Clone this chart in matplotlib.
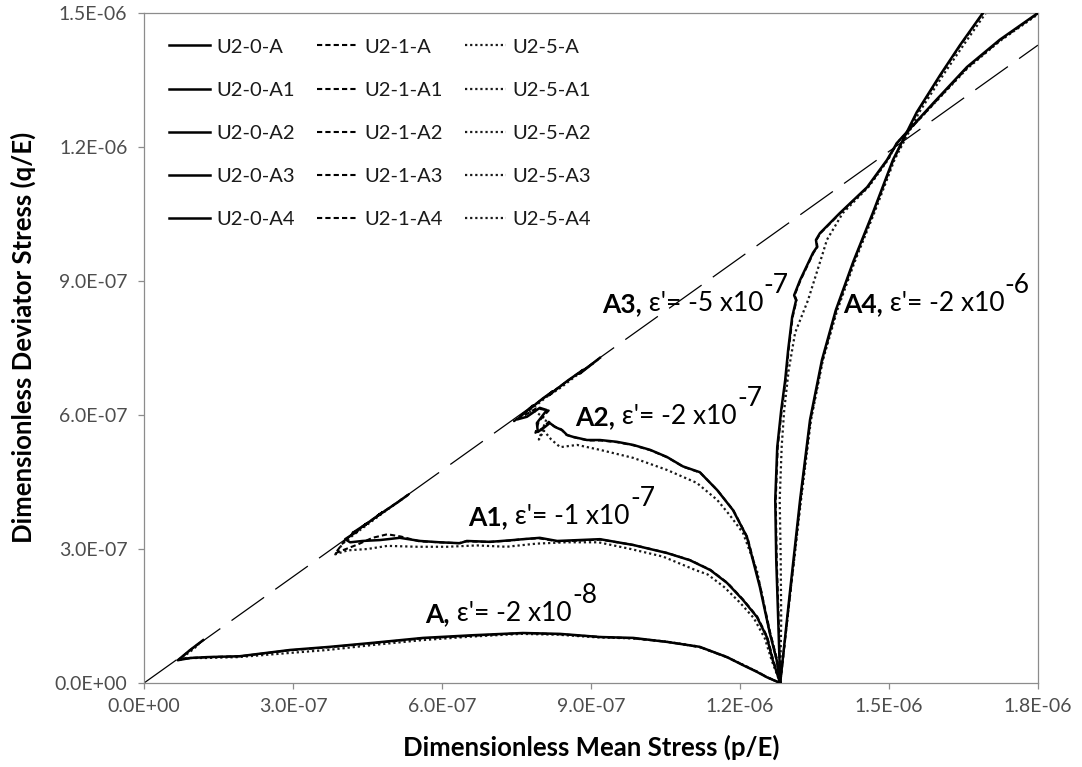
import numpy as np
import matplotlib
matplotlib.use("Agg")
import matplotlib.pyplot as plt
from matplotlib.ticker import FuncFormatter

plt.rcParams['font.family'] = ['Lato', 'DejaVu Sans']

UNIT = 1e-7  # all stresses below are given in units of 1e-7

# critical state line (dashed)
p_csl = [0.0, 18.0]
q_csl = [0.0, 14.28]

# ---- path A ----
p_A_0 = [12.81, 12.54, 12.34, 12.06, 11.74, 11.19, 10.53, 9.85, 9.18, 8.38, 7.63, 6.62, 5.62, 4.61, 3.74, 2.94, 1.93, 1.27, 0.93, 0.68, 0.93, 1.19]
q_A_0 = [0.00, 0.13, 0.25, 0.40, 0.58, 0.81, 0.92, 1.01, 1.03, 1.10, 1.12, 1.07, 1.01, 0.90, 0.81, 0.74, 0.60, 0.58, 0.56, 0.51, 0.74, 0.96]
p_A_1 = [12.81, 12.55, 12.35, 12.07, 11.75, 11.20, 10.55, 9.86, 9.20, 8.40, 7.65, 6.64, 5.60, 4.60, 3.72, 2.92, 1.95, 1.30, 0.95, 0.70, 0.92, 1.15]
q_A_1 = [0.00, 0.13, 0.25, 0.40, 0.57, 0.80, 0.92, 1.00, 1.03, 1.09, 1.12, 1.06, 1.00, 0.89, 0.80, 0.73, 0.60, 0.58, 0.56, 0.52, 0.73, 0.92]
p_A_5 = [12.81, 12.54, 12.32, 12.04, 11.70, 11.15, 10.50, 9.83, 9.15, 8.35, 7.60, 6.60, 5.60, 4.60, 3.70, 2.90, 1.90, 1.25, 0.85, 0.72, 0.95, 1.10]
q_A_5 = [0.00, 0.13, 0.27, 0.42, 0.60, 0.82, 0.93, 1.00, 1.02, 1.08, 1.10, 1.04, 0.96, 0.85, 0.74, 0.67, 0.58, 0.56, 0.56, 0.53, 0.72, 0.86]

# ---- path A1 ----
p_A1_0 = [12.81, 12.66, 12.54, 12.34, 12.06, 11.74, 11.40, 10.99, 10.53, 9.85, 9.18, 8.32, 7.97, 7.63, 7.43, 6.97, 6.50, 6.36, 5.96, 5.56, 5.15, 4.75, 4.40, 4.15, 4.05, 4.30, 4.20, 4.50, 4.40, 4.80, 4.70, 5.10, 5.30]
q_A1_0 = [0.00, 0.51, 1.03, 1.48, 1.86, 2.24, 2.53, 2.75, 2.91, 3.09, 3.22, 3.18, 3.25, 3.22, 3.20, 3.16, 3.18, 3.13, 3.15, 3.18, 3.25, 3.20, 3.18, 3.15, 3.22, 3.40, 3.36, 3.58, 3.50, 3.82, 3.74, 4.04, 4.20]
p_A1_1 = [12.81, 12.67, 12.55, 12.35, 12.07, 11.75, 11.41, 11.00, 10.54, 9.86, 9.20, 8.34, 7.95, 7.60, 7.40, 6.95, 6.48, 6.33, 5.95, 5.55, 5.17, 4.90, 4.60, 4.30, 3.95, 3.85, 4.05, 4.25, 4.15, 4.45, 4.65, 4.95, 5.20, 5.35]
q_A1_1 = [0.00, 0.51, 1.03, 1.48, 1.86, 2.24, 2.53, 2.75, 2.91, 3.09, 3.21, 3.17, 3.24, 3.22, 3.19, 3.16, 3.17, 3.13, 3.15, 3.17, 3.28, 3.33, 3.25, 3.10, 2.95, 2.90, 3.20, 3.38, 3.30, 3.54, 3.70, 3.93, 4.12, 4.24]
p_A1_5 = [12.81, 12.64, 12.50, 12.28, 12.00, 11.68, 11.35, 11.10, 10.45, 9.80, 9.15, 8.50, 7.90, 7.30, 6.70, 6.10, 5.50, 4.90, 4.50, 4.10, 3.85, 4.00, 4.20, 4.50, 4.90, 5.20]
q_A1_5 = [0.00, 0.50, 1.00, 1.45, 1.80, 2.15, 2.43, 2.53, 2.83, 3.00, 3.15, 3.15, 3.12, 3.05, 3.08, 3.05, 3.05, 3.07, 3.00, 2.97, 2.88, 3.12, 3.30, 3.55, 3.88, 4.12]

# ---- path A2 ----
p_A2_0 = [12.81, 12.74, 12.60, 12.40, 12.14, 11.86, 11.54, 11.19, 10.85, 10.53, 10.19, 9.85, 9.52, 9.18, 8.92, 8.64, 8.52, 8.42, 8.28, 8.17, 8.07, 7.93, 7.91, 8.11, 7.97, 7.71, 7.51, 7.83, 7.75, 8.03, 8.23, 8.15, 8.52, 8.84, 8.78, 9.18]
q_A2_0 = [0.00, 0.51, 1.12, 2.15, 3.27, 3.87, 4.32, 4.72, 4.85, 5.06, 5.22, 5.33, 5.40, 5.44, 5.44, 5.51, 5.55, 5.66, 5.73, 5.82, 5.73, 5.62, 5.82, 6.11, 6.16, 5.96, 5.90, 6.21, 6.12, 6.37, 6.53, 6.44, 6.76, 7.01, 6.93, 7.28]
p_A2_1 = [12.81, 12.75, 12.61, 12.41, 12.15, 11.87, 11.55, 11.20, 10.86, 10.54, 10.20, 9.86, 9.53, 9.20, 8.94, 8.66, 8.50, 8.40, 8.25, 8.15, 8.02, 7.88, 7.95, 8.15, 7.90, 7.60, 7.45, 7.80, 7.70, 8.00, 8.25, 8.10, 8.50, 8.80, 8.75, 9.15]
q_A2_1 = [0.00, 0.51, 1.12, 2.15, 3.26, 3.86, 4.31, 4.71, 4.84, 5.05, 5.21, 5.32, 5.39, 5.43, 5.43, 5.50, 5.56, 5.68, 5.75, 5.85, 5.70, 5.60, 5.86, 6.10, 6.15, 5.95, 5.86, 6.18, 6.08, 6.34, 6.54, 6.42, 6.74, 6.98, 6.92, 7.25]
p_A2_5 = [12.81, 12.74, 12.54, 12.34, 12.06, 11.80, 11.54, 11.13, 10.53, 9.85, 9.18, 8.72, 8.38, 8.20, 8.05, 7.95, 8.10, 7.85, 7.60, 7.90, 8.10, 8.40, 8.75, 9.10]
q_A2_5 = [0.00, 0.51, 1.41, 2.53, 3.36, 3.75, 4.10, 4.48, 4.77, 5.04, 5.22, 5.33, 5.28, 5.45, 5.65, 5.45, 5.90, 6.10, 6.00, 6.22, 6.40, 6.62, 6.92, 7.20]

# ---- path A3 ----
p_A3_0 = [12.81, 12.77, 12.73, 12.71, 12.75, 12.83, 12.91, 12.97, 13.05, 13.13, 13.09, 13.21, 13.47, 13.55, 13.53, 13.61, 14.01, 14.56, 14.96, 15.16, 15.89, 16.57, 17.23, 18.00]
q_A3_0 = [0.00, 1.41, 2.75, 4.10, 5.28, 6.11, 6.78, 7.46, 8.19, 8.57, 8.68, 9.02, 9.63, 9.76, 9.92, 10.07, 10.52, 11.10, 11.71, 12.09, 12.98, 13.79, 14.40, 15.00]
p_A3_1 = [12.81, 12.78, 12.74, 12.72, 12.76, 12.84, 12.92, 12.98, 13.06, 13.14, 13.10, 13.22, 13.48, 13.56, 13.54, 13.62, 14.02, 14.57, 14.97, 15.17, 15.90, 16.58, 17.24, 18.00]
q_A3_1 = [0.00, 1.41, 2.75, 4.10, 5.28, 6.11, 6.78, 7.46, 8.19, 8.57, 8.68, 9.02, 9.63, 9.76, 9.92, 10.07, 10.52, 11.10, 11.71, 12.09, 12.97, 13.78, 14.39, 14.99]
p_A3_5 = [12.81, 12.83, 12.82, 12.80, 12.84, 12.89, 12.98, 13.11, 13.37, 13.67, 13.75, 14.07, 14.60, 14.98, 15.16, 15.89, 16.57, 17.23, 18.00]
q_A3_5 = [0.00, 1.40, 2.80, 4.10, 5.30, 6.10, 7.00, 7.84, 8.57, 9.63, 9.92, 10.52, 11.12, 11.71, 12.09, 12.95, 13.75, 14.37, 14.97]

# ---- path A4 ----
p_A4_0 = [12.81, 13.01, 13.21, 13.41, 13.65, 13.93, 14.28, 14.68, 15.08, 15.56, 16.03, 16.43, 16.89]
q_A4_0 = [0.00, 2.08, 4.10, 5.89, 7.23, 8.35, 9.43, 10.54, 11.71, 12.78, 13.61, 14.28, 15.00]
p_A4_1 = [12.81, 13.02, 13.22, 13.42, 13.66, 13.94, 14.29, 14.69, 15.09, 15.57, 16.04, 16.44, 16.90]
q_A4_1 = [0.00, 2.08, 4.10, 5.89, 7.23, 8.35, 9.43, 10.54, 11.71, 12.78, 13.61, 14.28, 15.00]
p_A4_5 = [12.81, 13.02, 13.23, 13.43, 13.67, 13.96, 14.31, 14.71, 15.11, 15.61, 16.09, 16.50, 16.95]
q_A4_5 = [0.00, 2.08, 4.10, 5.89, 7.23, 8.35, 9.43, 10.54, 11.71, 12.78, 13.61, 14.28, 15.00]

paths = ["A", "A1", "A2", "A3", "A4"]
series_0 = [(p_A_0, q_A_0), (p_A1_0, q_A1_0), (p_A2_0, q_A2_0), (p_A3_0, q_A3_0), (p_A4_0, q_A4_0)]
series_1 = [(p_A_1, q_A_1), (p_A1_1, q_A1_1), (p_A2_1, q_A2_1), (p_A3_1, q_A3_1), (p_A4_1, q_A4_1)]
series_5 = [(p_A_5, q_A_5), (p_A1_5, q_A1_5), (p_A2_5, q_A2_5), (p_A3_5, q_A3_5), (p_A4_5, q_A4_5)]

# path labels: name, strain-rate coefficient, exponent, label anchor (p, q)
label_names = ["A,", "A1,", "A2,", "A3,", "A4,"]
label_coef = ["-2", "-1", "-2", "-5", "-2"]
label_exp = ["-8", "-7", "-7", "-7", "-6"]
label_p = [5.66, 6.53, 8.68, 9.22, 14.07]
label_q = [1.37, 3.54, 5.78, 8.31, 8.31]

x_ticks = [0.0, 3.0, 6.0, 9.0, 12.0, 15.0, 18.0]
y_ticks = [0.0, 3.0, 6.0, 9.0, 12.0, 15.0]

fig = plt.figure(figsize=(10.82, 7.67), dpi=100)
ax = fig.add_axes([0.1331, 0.1095, 0.8262, 0.8736])

ax.plot(np.array(p_csl) * UNIT, np.array(q_csl) * UNIT, color="black", lw=0.9,
        linestyle=(0, (32, 11)), zorder=1)

handles = []
for (p, q), name in zip(series_0, paths):
    h, = ax.plot(np.array(p) * UNIT, np.array(q) * UNIT, color="black", lw=1.8,
                 solid_joinstyle="round", label=f"U2-0-{name}", zorder=4)
    handles.append(h)
for (p, q), name in zip(series_1, paths):
    h, = ax.plot(np.array(p) * UNIT, np.array(q) * UNIT, color="black", lw=1.5,
                 linestyle=(0, (2.5, 1.5)), label=f"U2-1-{name}", zorder=3)
    handles.append(h)
for (p, q), name in zip(series_5, paths):
    h, = ax.plot(np.array(p) * UNIT, np.array(q) * UNIT, color="#1a1a1a", lw=1.6,
                 linestyle=(0, (1, 1.3)), label=f"U2-5-{name}", zorder=2)
    handles.append(h)

ax.set_xlim(0, 18.0 * UNIT)
ax.set_ylim(0, 15.0 * UNIT)
ax.set_xticks(np.array(x_ticks) * UNIT)
ax.set_yticks(np.array(y_ticks) * UNIT)
fmt = FuncFormatter(lambda v, pos: f"{v:.1E}")
ax.xaxis.set_major_formatter(fmt)
ax.yaxis.set_major_formatter(fmt)

for s in ax.spines.values():
    s.set_color("#8c8c8c")
    s.set_linewidth(0.9)
ax.tick_params(axis="both", direction="out", length=4, width=0.9, color="#8c8c8c",
               labelsize=14, labelcolor="#4d4d4d")
ax.tick_params(axis="x", pad=7)
ax.tick_params(axis="y", pad=8)

ax.set_xlabel("Dimensionless Mean Stress (p/E)", fontsize=18.5, fontweight="bold", labelpad=14)
ax.set_ylabel("Dimensionless Deviator Stress (q/E)", fontsize=18.5, fontweight="bold")
ax.yaxis.set_label_coords(-0.121, 0.516)

leg = ax.legend(handles=handles, ncol=3, loc="upper left", bbox_to_anchor=(0.028, 0.962),
                frameon=False, fontsize=14.5, handlelength=2.05, handletextpad=0.3,
                labelspacing=1.29, columnspacing=1.1, borderpad=0, borderaxespad=0)
for t in leg.get_texts():
    t.set_color("#1a1a1a")

# path annotations
for name, coef, ex, lp, lq in zip(label_names, label_coef, label_exp, label_p, label_q):
    t1 = ax.text(lp * UNIT, lq * UNIT, name, fontsize=19, fontweight="bold",
                 va="baseline", ha="left", zorder=6)
    t2 = ax.annotate(f" \u03b5'= {coef} x10", xy=(1, 0), xycoords=t1, va="bottom",
                     ha="left", fontsize=19, zorder=6)
    ax.annotate(ex, xy=(1, 0), xycoords=t2, xytext=(0.5, 13), textcoords="offset points",
                va="bottom", ha="left", fontsize=19, zorder=6)

fig.savefig("out.png", dpi=100)
